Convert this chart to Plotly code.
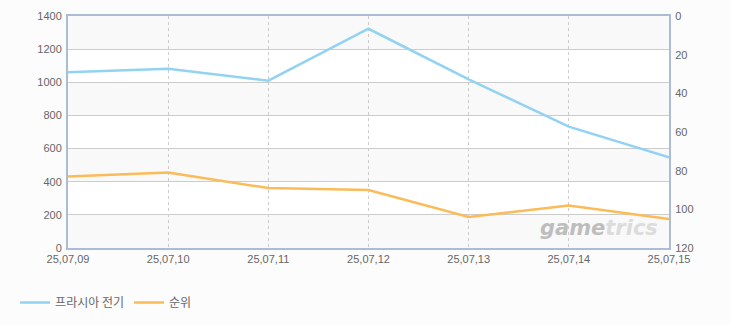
import plotly.graph_objects as go

dates = ["25,07,09", "25,07,10", "25,07,11", "25,07,12", "25,07,13", "25,07,14", "25,07,15"]
usage = [1060, 1082, 1010, 1323, 1018, 732, 548]
rank = [83, 81, 89, 90, 104, 98, 105]
left_ticks = [0, 200, 400, 600, 800, 1000, 1200, 1400]
right_ticks = [0, 20, 40, 60, 80, 100, 120]

name_usage = "프라시아 전기"
name_rank = "순위"

blue = "#92d2f2"
orange = "#fbbb58"
frame = "#aabdd3"
tickc = "#666666"

x_idx = list(range(len(dates)))

fig = go.Figure()
fig.add_trace(go.Scatter(x=x_idx, y=usage, name=name_usage, mode="lines",
                         line=dict(color=blue, width=2.5), yaxis="y"))
fig.add_trace(go.Scatter(x=x_idx, y=rank, name=name_rank, mode="lines",
                         line=dict(color=orange, width=2.5), yaxis="y2"))

shapes = []
for i in range(0, len(left_ticks) - 1, 2):
    shapes.append(dict(type="rect", xref="paper", yref="y", x0=0, x1=1,
                       y0=left_ticks[i], y1=left_ticks[i + 1],
                       fillcolor="#f9f9f9", line=dict(width=0), layer="below"))

fig.update_layout(
    width=730, height=325,
    margin=dict(l=68, r=61, t=16, b=77, autoexpand=False),
    paper_bgcolor="#fcfcfc",
    plot_bgcolor="#ffffff",
    font=dict(family="Liberation Sans, Arial", size=11, color=tickc),
    shapes=shapes,
    showlegend=True,
    legend=dict(orientation="h", x=-0.088, xanchor="left", y=-0.235, yanchor="middle",
                font=dict(family="Noto Sans CJK KR", size=12, color="#666666"),
                itemwidth=30, tracegroupgap=0, bgcolor="rgba(0,0,0,0)"),
    xaxis=dict(range=[0, len(dates) - 1], tickvals=x_idx, ticktext=dates,
               showgrid=True, gridcolor="#cccccc", griddash="3px,3px", gridwidth=1,
               showline=True, linecolor=frame, linewidth=2, mirror=True,
               zeroline=False, ticks="", automargin=False,
               tickfont=dict(size=11, color=tickc)),
    yaxis=dict(range=[0, 1400], tickvals=left_ticks, showgrid=True,
               gridcolor="#cccccc", gridwidth=1, zeroline=False,
               showline=True, linecolor=frame, linewidth=2, automargin=False,
               ticks="", ticklabelstandoff=2, tickfont=dict(size=11, color=tickc)),
    yaxis2=dict(range=[120, 0], tickvals=right_ticks, overlaying="y", side="right",
                showgrid=False, zeroline=False, showline=True, linecolor=frame,
                linewidth=2, ticks="", ticklabelstandoff=2, automargin=False,
                tickfont=dict(size=11, color=tickc)),
    annotations=[dict(xref="paper", yref="paper", x=0.985, y=0.085, xanchor="right",
                      yanchor="middle", showarrow=False,
                      text="<b><i><span style='color:#bdbdbd'>game</span>"
                           "<span style='color:#dcdcdc'>trics</span></i></b>",
                      font=dict(family="DejaVu Sans", size=21))],
)

fig.write_html("out.html")
